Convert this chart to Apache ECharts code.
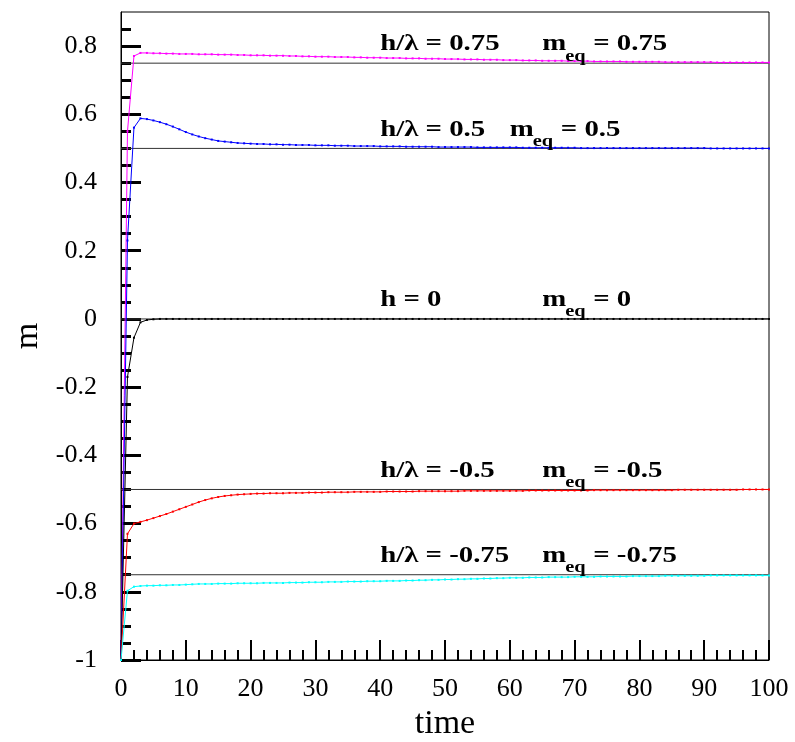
<!DOCTYPE html>
<html><head><meta charset="utf-8">
<script src="https://cdn.jsdelivr.net/npm/echarts/dist/echarts.min.js"></script>
<style>html,body{margin:0;padding:0;background:#fff}#c{width:795px;height:742px}</style>
</head><body><div id="c"></div>
<script>
const time = [0,1,2,3,4,5,6,7,8,9,10,11,12,13,14,15,16,17,18,19,20,21,22,23,24,25,26,27,28,29,30,31,32,33,34,35,36,37,38,39,40,41,42,43,44,45,46,47,48,49,50,51,52,53,54,55,56,57,58,59,60,61,62,63,64,65,66,67,68,69,70,71,72,73,74,75,76,77,78,79,80,81,82,83,84,85,86,87,88,89,90,91,92,93,94,95,96,97,98,99,100];

const mH075 = [-1,0.55,0.771,0.780,0.780,0.779,0.779,0.778,0.778,0.777,0.777,
0.777,0.776,0.776,0.776,0.775,0.775,0.775,0.774,0.774,0.773,
0.773,0.773,0.772,0.772,0.772,0.771,0.771,0.770,0.770,0.769,
0.769,0.769,0.768,0.768,0.768,0.767,0.767,0.766,0.766,0.766,
0.765,0.765,0.765,0.764,0.764,0.764,0.763,0.763,0.763,0.762,
0.762,0.762,0.761,0.761,0.761,0.760,0.760,0.760,0.759,0.759,
0.759,0.758,0.758,0.758,0.757,0.757,0.757,0.757,0.756,0.756,
0.756,0.756,0.755,0.755,0.755,0.755,0.755,0.754,0.754,0.754,
0.754,0.754,0.754,0.753,0.753,0.753,0.753,0.753,0.753,0.753,
0.753,0.752,0.752,0.752,0.752,0.752,0.752,0.752,0.752,0.752];

const mH050 = [-1,0.23,0.561,0.588,0.586,0.582,0.577,0.571,0.564,0.556,0.548,
0.541,0.535,0.530,0.526,0.522,0.520,0.518,0.516,0.515,0.514,
0.513,0.513,0.512,0.512,0.511,0.511,0.510,0.510,0.510,0.509,
0.509,0.509,0.508,0.508,0.508,0.507,0.507,0.507,0.507,0.506,
0.506,0.506,0.506,0.505,0.505,0.505,0.505,0.505,0.504,0.504,
0.504,0.504,0.504,0.504,0.503,0.503,0.503,0.503,0.503,0.503,
0.503,0.502,0.502,0.502,0.502,0.502,0.502,0.502,0.502,0.502,
0.501,0.501,0.501,0.501,0.501,0.501,0.501,0.501,0.501,0.501,
0.501,0.501,0.501,0.501,0.501,0.501,0.501,0.501,0.501,0.501,
0.500,0.500,0.500,0.500,0.500,0.500,0.500,0.500,0.500,0.500];

const mH0 = [-1,-0.17,-0.055,-0.010,-0.003,-0.001,0,0,0,0,0,
0,0,0,0,0,0,0,0,0,0, 0,0,0,0,0,0,0,0,0,0, 0,0,0,0,0,0,0,0,0,0,
0,0,0,0,0,0,0,0,0,0, 0,0,0,0,0,0,0,0,0,0, 0,0,0,0,0,0,0,0,0,0,
0,0,0,0,0,0,0,0,0,0, 0,0,0,0,0,0,0,0,0,0, 0,0,0,0,0,0,0,0,0,0];

const mHm050 = [-1,-0.630,-0.600,-0.595,-0.590,-0.584,-0.578,-0.572,-0.565,-0.558,-0.551,
-0.544,-0.537,-0.531,-0.526,-0.522,-0.519,-0.517,-0.515,-0.514,-0.513,
-0.512,-0.512,-0.511,-0.511,-0.511,-0.510,-0.510,-0.510,-0.509,-0.509,
-0.509,-0.508,-0.508,-0.508,-0.508,-0.507,-0.507,-0.507,-0.507,-0.507,
-0.506,-0.506,-0.506,-0.506,-0.506,-0.505,-0.505,-0.505,-0.505,-0.505,
-0.505,-0.505,-0.504,-0.504,-0.504,-0.504,-0.504,-0.504,-0.504,-0.504,
-0.504,-0.504,-0.503,-0.503,-0.503,-0.503,-0.503,-0.503,-0.503,-0.503,
-0.503,-0.503,-0.502,-0.502,-0.502,-0.502,-0.502,-0.502,-0.502,-0.502,
-0.502,-0.502,-0.502,-0.502,-0.502,-0.501,-0.501,-0.501,-0.501,-0.501,
-0.501,-0.501,-0.501,-0.501,-0.501,-0.500,-0.500,-0.500,-0.500,-0.500];

const mHm075 = [-1,-0.797,-0.785,-0.783,-0.782,-0.782,-0.781,-0.781,-0.780,-0.780,-0.779,
-0.778,-0.777,-0.777,-0.777,-0.776,-0.776,-0.776,-0.775,-0.775,-0.775,
-0.775,-0.774,-0.774,-0.774,-0.774,-0.773,-0.773,-0.773,-0.772,-0.772,
-0.772,-0.771,-0.771,-0.771,-0.770,-0.770,-0.770,-0.769,-0.769,-0.769,
-0.768,-0.768,-0.768,-0.767,-0.767,-0.766,-0.766,-0.765,-0.765,-0.764,
-0.764,-0.763,-0.763,-0.762,-0.762,-0.761,-0.761,-0.760,-0.760,-0.759,
-0.759,-0.759,-0.758,-0.758,-0.758,-0.757,-0.757,-0.757,-0.757,-0.756,
-0.756,-0.756,-0.756,-0.755,-0.755,-0.755,-0.755,-0.755,-0.754,-0.754,
-0.754,-0.754,-0.754,-0.753,-0.753,-0.753,-0.753,-0.753,-0.753,-0.753,
-0.752,-0.752,-0.752,-0.752,-0.752,-0.752,-0.752,-0.752,-0.752,-0.752];

const eqValues = [0.75, 0.5, 0, -0.5, -0.75];
const hLabels = ['h/\u03bb = 0.75', 'h/\u03bb = 0.5', 'h = 0', 'h/\u03bb = -0.5', 'h/\u03bb = -0.75'];
const meqLabels = ['= 0.75', '= 0.5', '= 0', '= -0.5', '= -0.75'];
const hLabelT = [40, 40, 40, 40, 40];
const meqLabelT = [65, 60, 65, 65, 65];
const yTickLabels = [-1, -0.8, -0.6, -0.4, -0.2, 0, 0.2, 0.4, 0.6, 0.8];
const xTickLabels = [0, 10, 20, 30, 40, 50, 60, 70, 80, 90, 100];

const curves = [
  {name: 'h=0.75', data: mH075, color: '#ff00ff'},
  {name: 'h=0.5', data: mH050, color: '#0000ff'},
  {name: 'h=0', data: mH0, color: '#000000'},
  {name: 'h=-0.5', data: mHm050, color: '#ff0000'},
  {name: 'h=-0.75', data: mHm075, color: '#00ffff'}
];

const FONT = '"Liberation Serif", "Times New Roman", serif';
const chart = echarts.init(document.getElementById('c'), null, {renderer: 'canvas'});

const series = [];
eqValues.forEach((v, i) => {
  series.push({
    type: 'line', name: 'eq' + i,
    data: [[time[0], v], [time[time.length - 1], v]],
    showSymbol: false, symbol: 'none', silent: true,
    lineStyle: {color: '#333', width: 1}, z: 1, animation: false
  });
});
curves.forEach(c => {
  series.push({
    type: 'line', name: c.name,
    data: time.map((t, k) => [t, c.data[k]]),
    symbol: 'rect', symbolSize: 2, showSymbol: true,
    itemStyle: {color: c.color},
    lineStyle: {color: c.color, width: 1}, z: 2, animation: false
  });
});

chart.setOption({
  animation: false,
  backgroundColor: '#fff',
  grid: {left: 121, right: 26, top: 12, bottom: 82, outerBoundsMode: 'none', containLabel: false,
    show: true, borderColor: '#000', borderWidth: 1, backgroundColor: 'transparent'},
  xAxis: {
    type: 'value', min: 0, max: 100, interval: 10,
    name: 'time', nameLocation: 'middle', nameGap: 44,
    nameTextStyle: {fontFamily: FONT, fontSize: 34, color: '#000'},
    axisLine: {onZero: false, lineStyle: {color: '#000', width: 1}},
    axisTick: {inside: true, length: 20, lineStyle: {color: '#000', width: 2}},
    minorTick: {show: true, splitNumber: 5, length: 10, lineStyle: {color: '#000', width: 2}},
    splitLine: {show: false},
    axisLabel: {fontFamily: FONT, fontSize: 26, color: '#000', margin: 16, customValues: xTickLabels}
  },
  yAxis: {
    type: 'value', min: -1, max: 0.9, interval: 0.2,
    name: 'm', nameLocation: 'middle', nameGap: 76, nameRotate: 90,
    nameTextStyle: {fontFamily: FONT, fontSize: 34, color: '#000'},
    axisLine: {onZero: false, lineStyle: {color: '#000', width: 1}},
    axisTick: {inside: true, length: 20, lineStyle: {color: '#000', width: 3}, customValues: yTickLabels},
    minorTick: {show: true, splitNumber: 4, length: 10, lineStyle: {color: '#000', width: 3}},
    splitLine: {show: false},
    axisLabel: {fontFamily: FONT, fontSize: 26, color: '#000', margin: 24, customValues: yTickLabels}
  },
  series: series
});

const graphics = [];
const SX = 1.2;
eqValues.forEach((v, i) => {
  const ph = chart.convertToPixel({gridIndex: 0}, [hLabelT[i], v]);
  const pm = chart.convertToPixel({gridIndex: 0}, [meqLabelT[i], v]);
  const bold = 'bold 24px ' + FONT;
  graphics.push({type: 'text', x: ph[0], y: ph[1] - 19, scaleX: SX, z: 10,
    style: {text: hLabels[i], font: bold, fill: '#000', align: 'left', verticalAlign: 'middle'}});
  graphics.push({type: 'text', x: pm[0], y: pm[1] - 19, scaleX: SX, z: 10,
    style: {text: 'm', font: bold, fill: '#000', align: 'left', verticalAlign: 'middle'}});
  graphics.push({type: 'text', x: pm[0] + 23, y: pm[1] - 7, scaleX: SX, z: 10,
    style: {text: 'eq', font: 'bold 17px ' + FONT, fill: '#000', align: 'left', verticalAlign: 'middle'}});
  graphics.push({type: 'text', x: pm[0] + 51, y: pm[1] - 19, scaleX: SX, z: 10,
    style: {text: meqLabels[i], font: bold, fill: '#000', align: 'left', verticalAlign: 'middle'}});
});
chart.setOption({graphic: graphics});
</script>
</body></html>
